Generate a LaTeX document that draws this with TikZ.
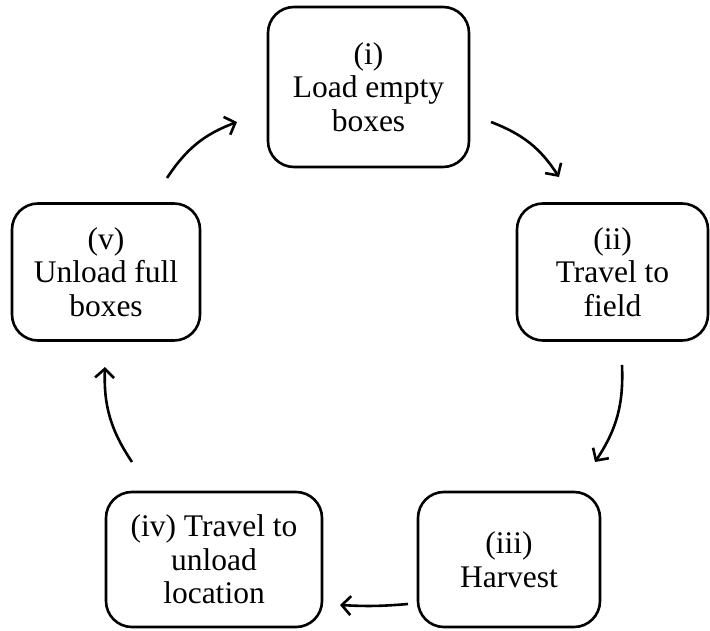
\documentclass[tikz,border=0pt]{standalone}
\usepackage{fontspec}
\setmainfont{Liberation Serif}
\usetikzlibrary{arrows.meta}
\begin{document}
\begin{tikzpicture}[x=1pt,y=1pt,
  stagebox/.style={draw, line width=2.6pt, rounded corners=26pt, align=center,
    inner sep=0pt, font=\fontsize{31.5}{33.5}\selectfont},
  flow/.style={line width=2.6pt, -{Straight Barb[length=9pt,width=19pt]}}]
\useasboundingbox (0,0) rectangle (710,630);
\node[stagebox, minimum width=201pt, minimum height=160pt] (s1) at (368.5,543) {(i)\\Load empty\\boxes};
\node[stagebox, minimum width=191pt, minimum height=137pt] (s2) at (612.5,358) {(ii)\\Travel to\\field};
\node[stagebox, minimum width=182pt, minimum height=135pt] (s3) at (509,70.5) {(iii)\\Harvest};
\node[stagebox, minimum width=216pt, minimum height=135pt] (s4) at (214,70.5) {(iv) Travel to\\unload\\location};
\node[stagebox, minimum width=188pt, minimum height=137pt] (s5) at (106,358) {(v)\\Unload full\\boxes};
\coordinate (a1s) at (491,508); \coordinate (a1e) at (559,453);
\coordinate (a2s) at (622,265); \coordinate (a2e) at (595,168);
\coordinate (a3s) at (408,26);  \coordinate (a3e) at (340,25);
\coordinate (a4s) at (132,168); \coordinate (a4e) at (105,263);
\coordinate (a5s) at (167,452); \coordinate (a5e) at (237,508);
\draw[flow] (a1s) to[bend left=18] (a1e);
\draw[flow] (a2s) to[bend left=18] (a2e);
\draw[flow] (a3s) to[bend left=4] (a3e);
\draw[flow] (a4s) to[bend left=18] (a4e);
\draw[flow] (a5s) to[bend left=18] (a5e);
\end{tikzpicture}
\end{document}
